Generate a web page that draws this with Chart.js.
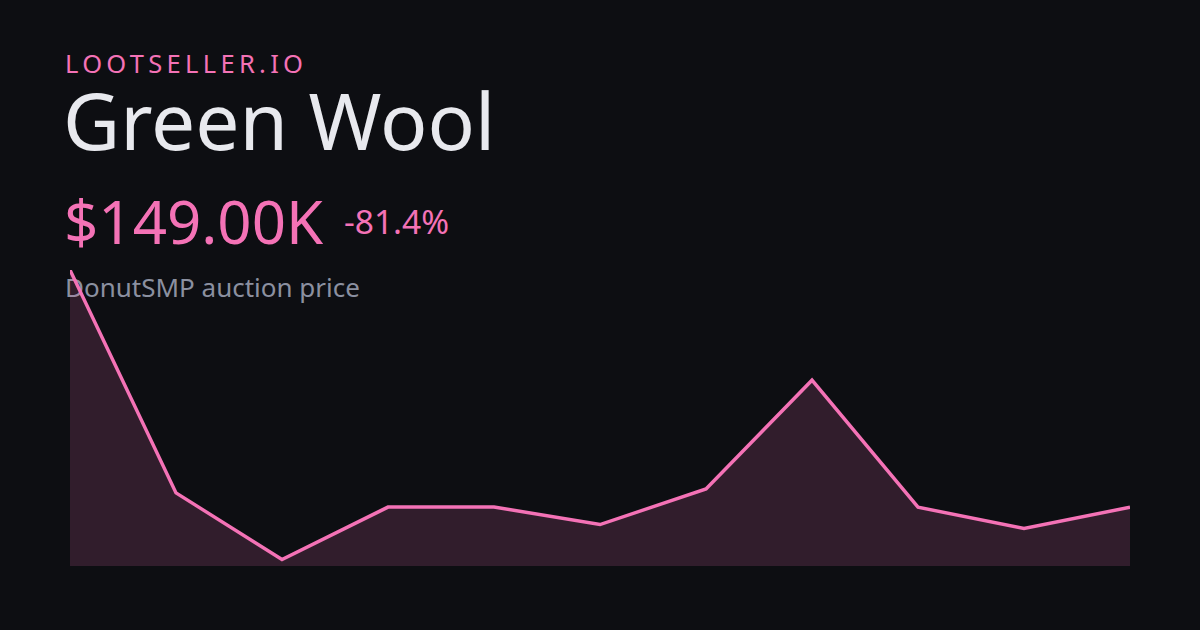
<!DOCTYPE html>
<html><head><meta charset="utf-8">
<script src="https://cdn.jsdelivr.net/npm/chart.js@4"></script>
<style>
html,body{margin:0;padding:0;background:#0d0e12;width:1200px;height:630px;overflow:hidden;font-family:"Noto Sans",sans-serif;}
.t{position:absolute;white-space:nowrap;line-height:1;}
#brand{left:65px;top:51px;font-size:25.5px;letter-spacing:4.3px;color:#f472b6;}
#title{left:63px;top:81px;font-size:78.5px;color:#e8e9ee;}
#price{left:64px;top:191px;font-size:60px;color:#f472b6;}
#chg{left:344px;top:205px;font-size:33.5px;color:#f472b6;}
#sub{left:65px;top:274px;font-size:26px;color:#8b90a0;}
#wrap{position:absolute;left:70px;top:270px;width:1060px;height:296px;}
</style></head><body>
<div class="t" id="brand">LOOTSELLER.IO</div>
<div class="t" id="title">Green Wool</div>
<div class="t" id="price">$149.00K</div>
<div class="t" id="chg">-81.4%</div>
<div class="t" id="sub">DonutSMP auction price</div>
<div id="wrap"><canvas id="c" width="1060" height="296"></canvas></div>
<script>
const labels = ["1","2","3","4","5","6","7","8","9","10","11"];
const prices = [801, 188, 5, 149, 149, 101, 199, 498, 149, 90, 149];
const yMin = -13;
const yMax = 801;
new Chart(document.getElementById('c'), {
  type: 'line',
  data: { labels: labels, datasets: [{
    data: prices,
    borderColor: '#f472b6',
    borderWidth: 3.5,
    backgroundColor: 'rgba(244,114,182,0.16)',
    fill: 'start',
    pointRadius: 0,
    tension: 0
  }]},
  options: {
    responsive: false, animation: false, devicePixelRatio: 1,
    layout: { padding: 0 },
    plugins: { legend: { display: false }, tooltip: { enabled: false } },
    scales: {
      x: { display: false, offset: false },
      y: { display: false, min: yMin, max: yMax }
    }
  }
});
</script>
</body></html>
